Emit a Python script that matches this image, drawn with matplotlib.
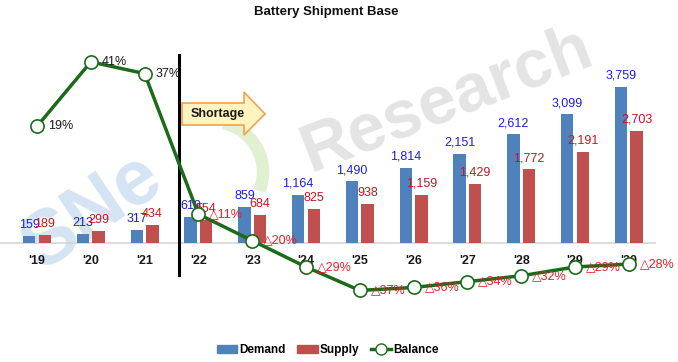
import numpy as np
import matplotlib.pyplot as plt
from matplotlib.patches import Polygon, Arc, Patch
from matplotlib.lines import Line2D

plt.rcParams['font.family'] = ['Liberation Sans', 'DejaVu Sans']

years = ["'19", "'20", "'21", "'22", "'23", "'24", "'25", "'26", "'27", "'28", "'29", "'30"]
demand = [159, 213, 317, 619, 859, 1164, 1490, 1814, 2151, 2612, 3099, 3759]
supply = [189, 299, 434, 554, 684, 825, 938, 1159, 1429, 1772, 2191, 2703]
balance = [19, 41, 37, -11, -20, -29, -37, -36, -34, -32, -29, -28]

c_demand = '#4f81bd'
c_supply = '#c0504d'
c_line = '#1b6b1b'

fig = plt.figure(figsize=(6.78, 3.62), dpi=100)

# watermark
fig.text(447 / 678, 1 - 100 / 362, "Research", fontsize=49, fontweight='bold',
         color='#e4e4e4', rotation=21,
         ha='center', va='center', rotation_mode='anchor', zorder=-5)
fig.text(92 / 678, 1 - 212 / 362, "SNe", fontsize=56, fontweight='bold',
         color='#d5e4f3', rotation=34,
         ha='center', va='center', rotation_mode='anchor', zorder=-5)

ax = fig.add_axes([0, 62 / 362, 656 / 678, 270 / 362])
ax.patch.set_alpha(0)
x = np.arange(len(years))
ax.set_xlim(-0.688, 11.505)
ax.set_ylim(-1370, 5120)

ax.add_patch(Arc((213 / 656, 128 / 270), 100 / 656, 100 / 270, theta1=-45, theta2=85,
                 transform=ax.transAxes, color='#e0f0d0', lw=9, zorder=0))

w = 0.23
ax.bar(x - 0.145, demand, w, color=c_demand, zorder=2)
ax.bar(x + 0.145, supply, w, color=c_supply, zorder=2)
ax.axhline(0, color='#d6d6d6', lw=1.2, zorder=1)

for i in range(len(years)):
    ax.annotate(f"{demand[i]:,}", (x[i] - 0.145, demand[i]), xytext=(0, 11),
                textcoords='offset pixels', ha='center', va='center',
                fontsize=9, color='#1f1fd8', zorder=5)
    ax.annotate(f"{supply[i]:,}", (x[i] + 0.145, supply[i]), xytext=(0, 11),
                textcoords='offset pixels', ha='center', va='center',
                fontsize=9, color='#c01820', zorder=5)
    ax.annotate(years[i], (x[i], 0), xytext=(0, -18), textcoords='offset pixels',
                ha='center', va='center', fontsize=9, fontweight='bold', color='#1a1a1a')

# forecast divider
ax.axvline(2.64, ymin=25 / 270, ymax=245 / 270, color='black', lw=2.2, zorder=3)

# shortage arrow
arrow = [(0.2774, 0.648), (0.372, 0.648), (0.372, 0.611), (0.404, 0.689),
         (0.372, 0.770), (0.372, 0.7296), (0.2774, 0.7296)]
ax.add_patch(Polygon(arrow, closed=True, transform=ax.transAxes,
                     facecolor='#fff3bf', edgecolor='#f2a24e', lw=1.2, zorder=4))
ax.text(0.3323, 0.689, "Shortage", transform=ax.transAxes, ha='center', va='center',
        fontsize=9, fontweight='bold', color='#1a1a1a', zorder=5)

ax.axis('off')

ax2 = ax.twinx()
ax2.set_ylim(-40.27, 51.88)
ax2.plot(x, balance, color=c_line, lw=2.5, marker='o', ms=9.5,
         mfc='white', mec=c_line, mew=1.2, zorder=6)
for i, v in enumerate(balance):
    if v >= 0:
        txt, col = f"{v}%", '#1a1a1a'
    else:
        txt, col = f"\u25b3{-v}%", '#ee1c24'
    ax2.annotate(txt, (x[i], v), xytext=(11, 0), textcoords='offset pixels',
                 ha='left', va='center', fontsize=9, color=col, zorder=7)
ax2.axis('off')

fig.text(326 / 678, 1 - 12 / 362, "Battery Shipment Base", ha='center', va='center',
         fontsize=9.5, fontweight='bold', color='#111111')

handles = [Patch(color=c_demand), Patch(color=c_supply),
           Line2D([], [], color=c_line, lw=2.5, marker='o', ms=8, mfc='white', mec=c_line)]
leg = fig.legend(handles, ["Demand", "Supply", "Balance"], loc='center',
                 bbox_to_anchor=(328 / 678, 1 - 350 / 362), ncol=3, frameon=False,
                 prop={'size': 8.5, 'weight': 'bold'}, handlelength=1.7, handleheight=0.6,
                 handletextpad=0.2, columnspacing=1.0)

fig.savefig('out.png', dpi=100)
